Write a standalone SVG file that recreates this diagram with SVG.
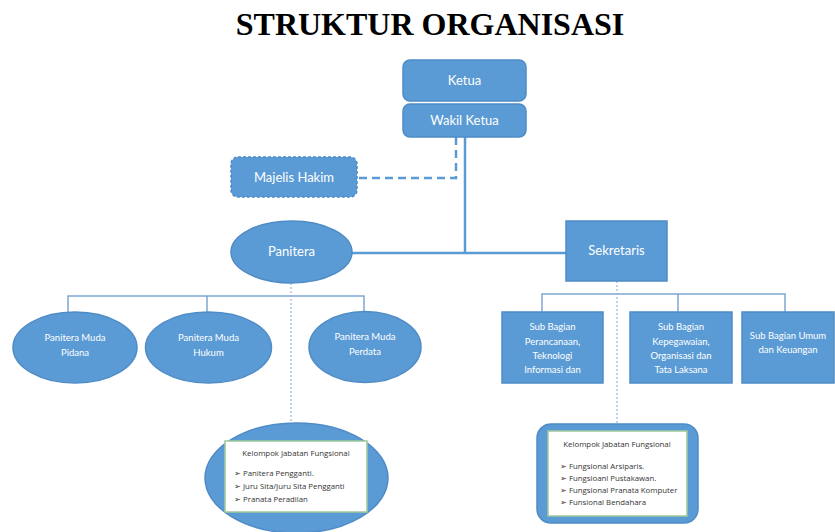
<svg xmlns="http://www.w3.org/2000/svg" width="835" height="532" viewBox="0 0 835 532">
<style>
.bg{fill:#ffffff}
.title{font-family:"Liberation Serif",serif;font-weight:bold;font-size:32px;fill:#000;text-anchor:middle}
.node{fill:#5b9bd5;stroke:#4f8cc6;stroke-width:1.5}
.lbl{font-family:Lato,"Liberation Sans",sans-serif;font-size:13px;fill:#fff;text-anchor:middle}
.sm{font-family:Lato,"Liberation Sans",sans-serif;font-size:9.5px;fill:#fff;text-anchor:middle}
.main{stroke:#5b9bd5;stroke-width:2.5;fill:none}
.dash{stroke:#5b9bd5;stroke-width:2.5;fill:none;stroke-dasharray:8 5}
.thin{stroke:#7fa7d2;stroke-width:1.5;fill:none}
.dot{stroke:#9ab7da;stroke-width:1.2;fill:none;stroke-dasharray:2 2}
.inner{fill:#fff;stroke:#9fc79a;stroke-width:1.5}
.kt{font-family:"Open Sans","Liberation Sans",sans-serif;font-size:7.8px;fill:#333}
</style>
<rect class="bg" x="0" y="0" width="835" height="532"/>
<text class="title" x="430" y="35">STRUKTUR ORGANISASI</text>

<g id="connectors">
  <path class="dash" d="M456 137 V178 H358"/>
  <line class="main" x1="465" y1="137" x2="465" y2="253"/>
  <line class="main" x1="352" y1="253" x2="566" y2="253"/>
  <path class="thin" d="M68 312 V296 H364 V312 M207 296 V312"/>
  <path class="thin" d="M542 312 V294 H785 V312 M678 294 V312"/>
  <line class="dot" x1="291" y1="283" x2="291" y2="424"/>
  <line class="dot" x1="617" y1="281" x2="617" y2="425"/>
</g>

<g id="ketua">
  <rect class="node" x="403" y="60" width="123" height="41" rx="7"/>
  <text class="lbl" x="464.5" y="85">Ketua</text>
</g>
<g id="wakil-ketua">
  <rect class="node" x="403" y="104" width="123" height="33" rx="7"/>
  <text class="lbl" x="464.5" y="125">Wakil Ketua</text>
</g>
<g id="majelis-hakim">
  <rect class="node" x="231" y="157" width="126" height="40" rx="7" stroke-dasharray="3 2" stroke="#3f78b0"/>
  <text class="lbl" x="294" y="181.5">Majelis Hakim</text>
</g>
<g id="panitera">
  <ellipse class="node" cx="291.5" cy="252" rx="60.5" ry="31"/>
  <text class="lbl" x="291.5" y="256">Panitera</text>
</g>
<g id="sekretaris">
  <rect class="node" x="566" y="221" width="101" height="60"/>
  <text class="lbl" x="616.5" y="255">Sekretaris</text>
</g>

<g id="pm-pidana">
  <ellipse class="node" cx="75" cy="347.5" rx="62" ry="35.5"/>
  <text class="sm" x="75" y="340.5">Panitera Muda</text>
  <text class="sm" x="75" y="355.5">Pidana</text>
</g>
<g id="pm-hukum">
  <ellipse class="node" cx="208.5" cy="347.5" rx="63" ry="35.5"/>
  <text class="sm" x="208.5" y="340.5">Panitera Muda</text>
  <text class="sm" x="208.5" y="355.5">Hukum</text>
</g>
<g id="pm-perdata">
  <ellipse class="node" cx="365" cy="347" rx="56" ry="35.5"/>
  <text class="sm" x="365" y="340">Panitera Muda</text>
  <text class="sm" x="365" y="355">Perdata</text>
</g>

<g id="sb-perancanaan">
  <rect class="node" x="502" y="312" width="101" height="71"/>
  <text class="sm" x="552.5" y="330">Sub Bagian</text>
  <text class="sm" x="552.5" y="344.5">Perancanaan,</text>
  <text class="sm" x="552.5" y="359">Teknologi</text>
  <text class="sm" x="552.5" y="373">Informasi dan</text>
</g>
<g id="sb-kepegawaian">
  <rect class="node" x="630" y="312" width="102" height="71"/>
  <text class="sm" x="681" y="330">Sub Bagian</text>
  <text class="sm" x="681" y="344.5">Kepegawaian,</text>
  <text class="sm" x="681" y="359">Organisasi dan</text>
  <text class="sm" x="681" y="373">Tata Laksana</text>
</g>
<g id="sb-umum">
  <rect class="node" x="742" y="312" width="92" height="71"/>
  <text class="sm" x="788" y="338.5">Sub Bagian Umum</text>
  <text class="sm" x="788" y="353">dan Keuangan</text>
</g>

<g id="kjf-panitera">
  <ellipse class="node" cx="296.5" cy="478" rx="91.5" ry="55"/>
  <rect class="inner" x="225" y="441" width="142" height="71"/>
  <text class="kt" x="296" y="456" text-anchor="middle">Kelompok Jabatan Fungsional</text>
  <text class="kt" x="234" y="476">➢ Panitera Pengganti.</text>
  <text class="kt" x="234" y="489">➢ Juru Sita/Juru Sita Pengganti</text>
  <text class="kt" x="234" y="502">➢ Pranata Peradilan</text>
</g>
<g id="kjf-sekretaris">
  <rect class="node" x="537" y="424" width="161" height="99" rx="14"/>
  <rect class="inner" x="548" y="431" width="139" height="85"/>
  <text class="kt" x="617" y="447" text-anchor="middle">Kelompok Jabatan Fungsional</text>
  <text class="kt" x="560" y="469">➢ Fungsional Arsiparis.</text>
  <text class="kt" x="560" y="481">➢ Fungsioanl Pustakawan.</text>
  <text class="kt" x="560" y="493">➢ Fungsional Pranata Komputer</text>
  <text class="kt" x="560" y="505">➢ Funsional Bendahara</text>
</g>
</svg>
